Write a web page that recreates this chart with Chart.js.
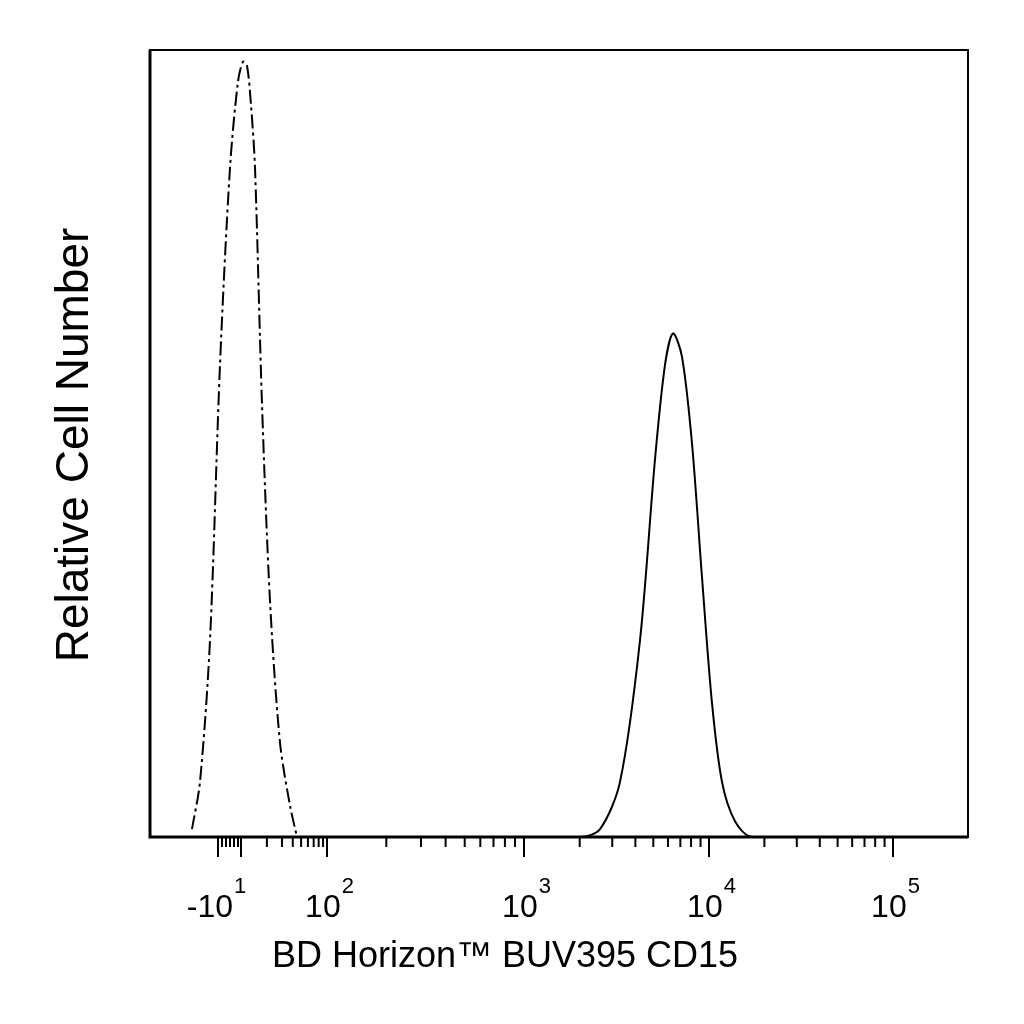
<!DOCTYPE html>
<html><head><meta charset="utf-8">
<script src="https://cdn.jsdelivr.net/npm/chart.js@4/dist/chart.umd.min.js"></script>
<style>body{margin:0;background:#fff}canvas{display:block}</style>
</head><body><canvas id="c" width="1024" height="1024"></canvas>
<script>
// x values are display-channel positions of the biexponential axis (0..818)
const majorPos = [68, 91, 177, 374, 559, 743];
const majorBase = ['-10', '', '10', '10', '10', '10'];
const majorExp = ['1', '', '2', '3', '4', '5'];
const isoX = [42, 50, 60, 70, 80, 88, 93, 97, 101, 105, 112, 120, 130, 140, 147];
const isoY = [0.01, 0.07, 0.25, 0.6, 0.85, 0.96, 0.985, 0.98, 0.93, 0.85, 0.55, 0.3, 0.12, 0.04, 0.0];
const cdX = [0, 430, 450, 470, 490, 505, 515, 523, 532, 542, 552, 562, 572, 585, 602, 818];
const cdY = [0, 0, 0.01, 0.07, 0.25, 0.48, 0.6, 0.64, 0.61, 0.5, 0.33, 0.17, 0.07, 0.02, 0, 0];

const minor = [];
[[91,86],[177,197],[374,185],[559,184]].forEach(([s,w])=>{for(let k=2;k<10;k++)minor.push(s+w*Math.log10(k));});
[72,76,80,84,88].forEach(v=>minor.push(v));

const frame = {id:'frame', afterDraw(ch){
  const {ctx, chartArea:a, scales:{x}} = ch;
  ctx.save(); ctx.strokeStyle='#000';
  ctx.lineWidth=2; ctx.strokeRect(a.left,a.top,a.right-a.left,a.bottom-a.top);
  ctx.lineWidth=3; ctx.beginPath(); ctx.moveTo(a.left,a.top); ctx.lineTo(a.left,a.bottom); ctx.lineTo(a.right,a.bottom); ctx.stroke();
  ctx.lineWidth=2; ctx.beginPath();
  majorPos.forEach(v=>{const p=x.getPixelForValue(v); ctx.moveTo(p,a.bottom); ctx.lineTo(p,a.bottom+20);});
  minor.forEach(v=>{const p=x.getPixelForValue(v); ctx.moveTo(p,a.bottom); ctx.lineTo(p,a.bottom+10);});
  ctx.stroke();
  ctx.fillStyle='#000'; ctx.textBaseline='alphabetic';
  majorPos.forEach((v,i)=>{ if(!majorBase[i]) return;
    const p=x.getPixelForValue(v)+(i==0?-8:-4);
    ctx.font='32px "Liberation Sans", Arial';
    const w=ctx.measureText(majorBase[i]).width;
    ctx.font='22px "Liberation Sans", Arial';
    const we=ctx.measureText(majorExp[i]).width;
    const s=p-(w+we)/2+6;
    ctx.font='32px "Liberation Sans", Arial'; ctx.fillText(majorBase[i], s, a.bottom+80);
    ctx.font='22px "Liberation Sans", Arial'; ctx.fillText(majorExp[i], s+w+1, a.bottom+56);
  });
  ctx.restore();
}};
const titles = {id:'titles', afterDraw(ch){
  const ctx=ch.ctx; ctx.save(); ctx.fillStyle='#000';
  ctx.font='36px "Liberation Sans", Arial'; ctx.textAlign='center'; ctx.textBaseline='middle';
  ctx.fillText('BD Horizon™ BUV395 CD15', 505, 957);
  ctx.translate(75,445); ctx.rotate(-Math.PI/2); ctx.font='46px "Liberation Sans", Arial';
  ctx.fillText('Relative Cell Number',0,0); ctx.restore();
}};

new Chart(document.getElementById('c'), {
  type:'line',
  data:{datasets:[
    {data:isoX.map((v,i)=>({x:v,y:isoY[i]})), borderColor:'#000', borderWidth:2, borderDash:[14,4,3,4], pointRadius:0, tension:0.3, fill:false},
    {data:cdX.map((v,i)=>({x:v,y:cdY[i]})), borderColor:'#000', borderWidth:2, pointRadius:0, tension:0.3, fill:false}
  ]},
  plugins:[frame, titles],
  options:{responsive:false, animation:false, devicePixelRatio:1,
    layout:{padding:{left:0,right:56,top:50,bottom:0}},
    plugins:{legend:{display:false}, tooltip:{enabled:false}},
    scales:{
      x:{type:'linear', min:0, max:818, grid:{display:false}, border:{display:false},
        ticks:{display:false}, afterFit(s){s.height=187;}},
      y:{min:0, max:1, grid:{display:false}, border:{display:false}, ticks:{display:false},
        afterFit(s){s.width=150;}}
    }}
});
</script></body></html>
